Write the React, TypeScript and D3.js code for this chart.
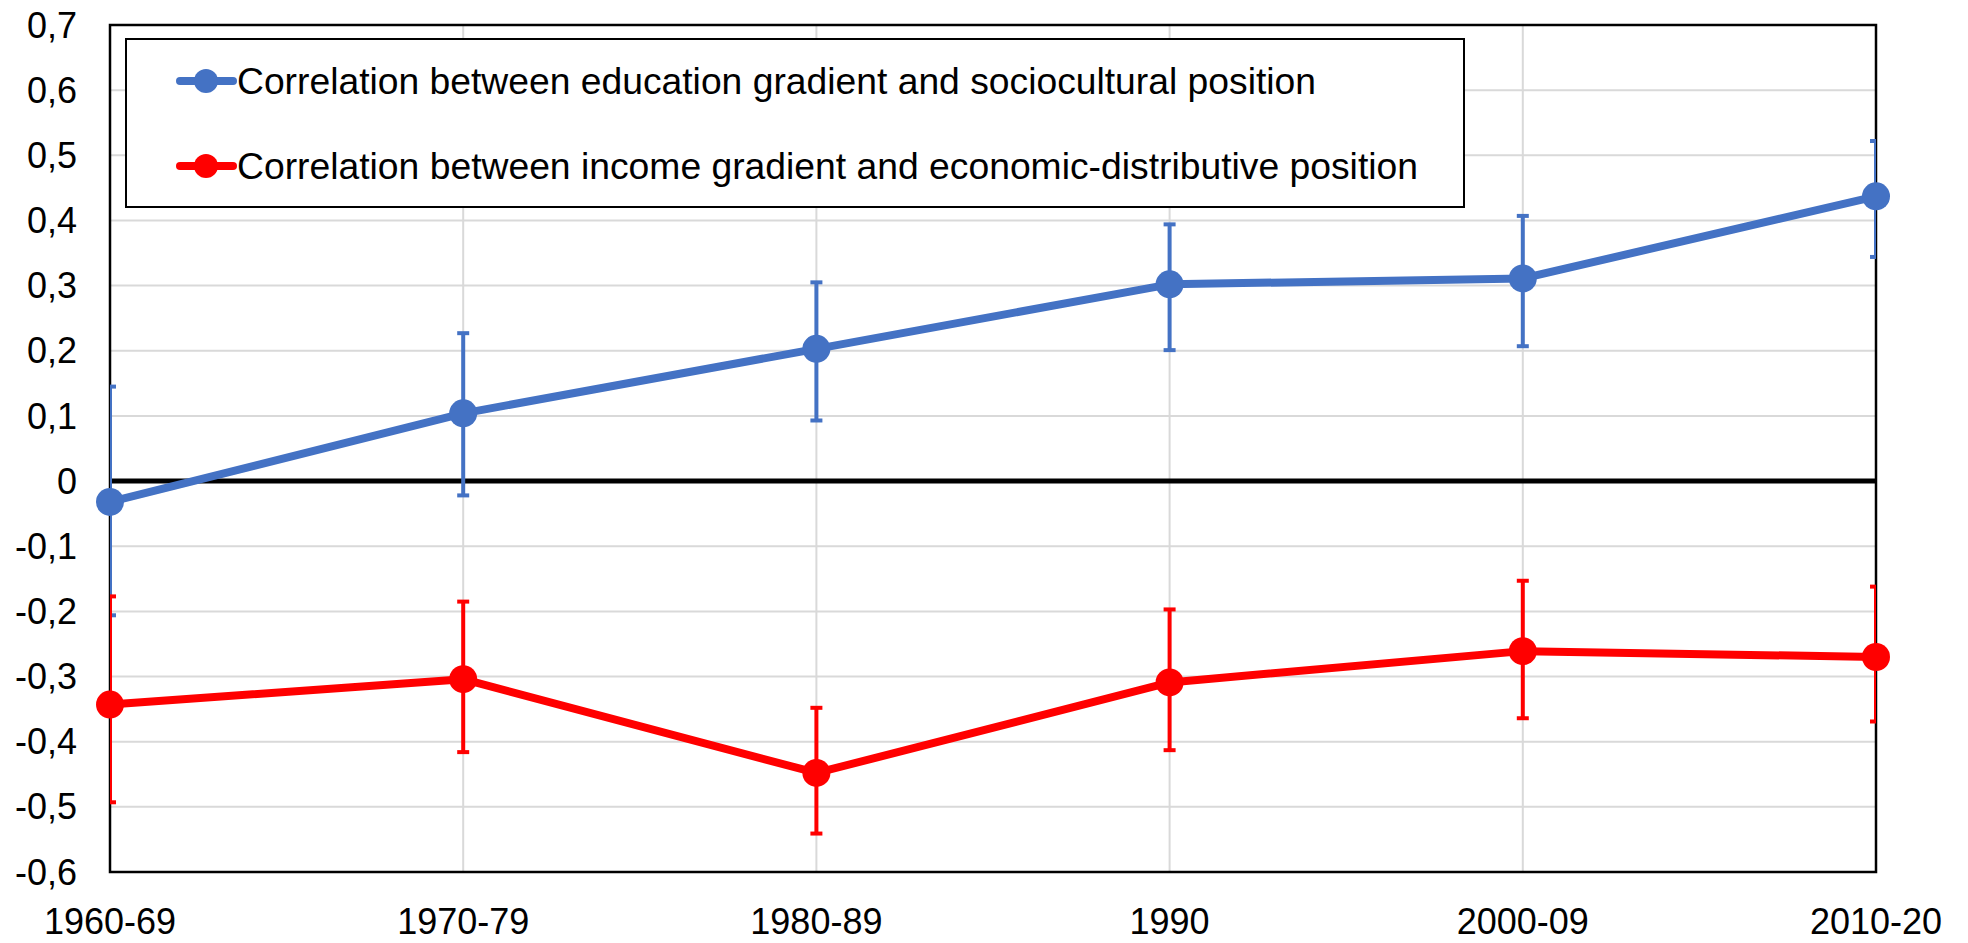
import * as d3 from "d3";

const categories = ["1960-69", "1970-79", "1980-89", "1990", "2000-09", "2010-20"];

// education gradient vs sociocultural position
const eduValues = [-0.032, 0.104, 0.203, 0.302, 0.311, 0.437];
const eduLow = [-0.206, -0.022, 0.093, 0.201, 0.207, 0.344];
const eduHigh = [0.145, 0.227, 0.305, 0.394, 0.407, 0.522];

// income gradient vs economic-distributive position
const incValues = [-0.343, -0.304, -0.448, -0.309, -0.261, -0.27];
const incLow = [-0.493, -0.416, -0.541, -0.413, -0.364, -0.369];
const incHigh = [-0.177, -0.185, -0.348, -0.197, -0.153, -0.162];

const yTicks = [0.7, 0.6, 0.5, 0.4, 0.3, 0.2, 0.1, 0, -0.1, -0.2, -0.3, -0.4, -0.5, -0.6];

const seriesNames = [
  "Correlation between education gradient and sociocultural position",
  "Correlation between income gradient and economic-distributive position",
];

const W = 1968;
const H = 943;
const font = "'Liberation Sans', Arial, sans-serif";

const fmt = (v: number) => (Math.abs(v) < 1e-9 ? "0" : v.toFixed(1).replace(".", ","));

export default function App() {
  const left = 110;
  const right = 1876;
  const top = 25;
  const bottom = 872;

  const x = d3.scalePoint<string>().domain(categories).range([left, right]);
  const y = d3.scaleLinear().domain([-0.6, 0.7]).range([bottom, top]);

  const series = [
    { color: "#4472C4", values: eduValues, low: eduLow, high: eduHigh, textW: 1079 },
    { color: "#FF0000", values: incValues, low: incLow, high: incHigh, textW: 1181 },
  ];

  const line = d3
    .line<number>()
    .x((_, i) => x(categories[i]) as number)
    .y((d) => y(d));

  const cap = 6;

  return (
    <svg
      width={W}
      height={H}
      style={{ position: "absolute", left: 0, top: 0, background: "#fff" }}
      fontFamily={font}
    >
      <defs>
        <clipPath id="plotClip">
          <rect x={left} y={top} width={right - left} height={bottom - top} />
        </clipPath>
      </defs>

      {/* gridlines */}
      {yTicks.map((t) => (
        <line key={"gy" + t} x1={left} x2={right} y1={y(t)} y2={y(t)} stroke="#d9d9d9" strokeWidth={2} />
      ))}
      {categories.map((c) => (
        <line key={"gx" + c} x1={x(c)} x2={x(c)} y1={top} y2={bottom} stroke="#d9d9d9" strokeWidth={2} />
      ))}

      {/* plot frame */}
      <rect x={left} y={top} width={right - left} height={bottom - top} fill="none" stroke="#000" strokeWidth={2.5} />

      {/* y labels */}
      {yTicks.map((t) => (
        <text key={"ly" + t} x={77} y={y(t)} dy="0.35em" textAnchor="end" fontSize={36} fill="#000">
          {fmt(t)}
        </text>
      ))}

      {/* x labels */}
      {categories.map((c) => (
        <text key={"lx" + c} x={x(c)} y={934} textAnchor="middle" fontSize={36} fill="#000">
          {c}
        </text>
      ))}

      {/* legend */}
      <rect x={126} y={39} width={1464 - 126} height={207 - 39} fill="#fff" stroke="#000" strokeWidth={2} />
      {series.map((s, i) => {
        const ly = 81 + i * 85;
        return (
          <g key={"leg" + i}>
            <line x1={180} x2={233} y1={ly} y2={ly} stroke={s.color} strokeWidth={8} strokeLinecap="round" />
            <circle cx={206} cy={ly} r={12} fill={s.color} />
            <text
              x={237}
              y={ly}
              dy="0.35em"
              fontSize={37}
              fill="#000"
              textLength={s.textW}
              lengthAdjust="spacingAndGlyphs"
            >
              {seriesNames[i]}
            </text>
          </g>
        );
      })}

      {/* zero line */}
      <line x1={left} x2={right} y1={y(0)} y2={y(0)} stroke="#000" strokeWidth={5} />

      {/* series */}
      {series.map((s, si) => (
        <g key={"s" + si}>
          <path d={line(s.values) ?? ""} fill="none" stroke={s.color} strokeWidth={8} strokeLinejoin="round" />
          <g clipPath="url(#plotClip)">
            {categories.map((c, i) => {
              const cx = x(c) as number;
              return (
                <g key={"eb" + i} stroke={s.color} strokeWidth={4}>
                  <line x1={cx} x2={cx} y1={y(s.low[i])} y2={y(s.high[i])} />
                  <line x1={cx - cap} x2={cx + cap} y1={y(s.low[i])} y2={y(s.low[i])} />
                  <line x1={cx - cap} x2={cx + cap} y1={y(s.high[i])} y2={y(s.high[i])} />
                </g>
              );
            })}
          </g>
          {categories.map((c, i) => (
            <circle key={"m" + i} cx={x(c)} cy={y(s.values[i])} r={14} fill={s.color} />
          ))}
        </g>
      ))}
    </svg>
  );
}
